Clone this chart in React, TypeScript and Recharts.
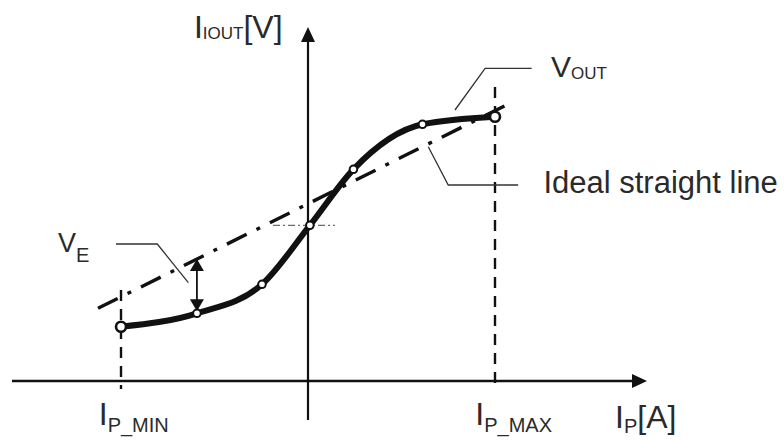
import React from "react";
import {
  ComposedChart,
  Line,
  XAxis,
  YAxis,
  ReferenceLine,
  ReferenceDot,
} from "recharts";

// measured sensor output points, IP_MIN = -1 .. IP_MAX = 1
const currentSteps = [-1, -0.594, -0.246, 0.01, 0.243, 0.612, 1];
const outputVolts = [0.543, 0.677, 0.967, 1.557, 2.117, 2.567, 2.643];

// ideal straight line (end points)
const idealCurrent = [-1.123, 1.086];
const idealVolts = [0.727, 2.783];

// limits on the current axis
const currentLimits = [-1, 1];

const curveData = currentSteps.map((x, i) => ({ x, y: outputVolts[i] }));
const idealData = idealCurrent.map((x, i) => ({ x, y: idealVolts[i] }));

const INK = "#111";
const TEXT = "#2a2a2a";
const FONT = "'Liberation Sans', Arial, sans-serif";

const head = (x: number, y: number, ang: number, len: number, half: number) => {
  const bx = x - Math.cos(ang) * len;
  const by = y - Math.sin(ang) * len;
  const px = -Math.sin(ang) * half;
  const py = Math.cos(ang) * half;
  return `${x},${y} ${bx + px},${by + py} ${bx - px},${by - py}`;
};

const AxisArrow = (props: any) => {
  const { x1, y1, x2, y2, strokeWidth } = props;
  const ang = Math.atan2(y2 - y1, x2 - x1);
  return (
    <g>
      <line x1={x1} y1={y1} x2={x2 - Math.cos(ang) * 8} y2={y2 - Math.sin(ang) * 8} stroke={INK} strokeWidth={strokeWidth} />
      <polygon points={head(x2, y2, ang, 15, 7)} fill={INK} />
    </g>
  );
};

const DoubleArrow = (props: any) => {
  const { x1, y1, x2, y2 } = props;
  const ang = Math.atan2(y2 - y1, x2 - x1);
  return (
    <g>
      <line x1={x1} y1={y1} x2={x2} y2={y2} stroke={INK} strokeWidth={1.8} />
      <polygon points={head(x2, y2, ang, 12, 7)} fill={INK} />
      <polygon points={head(x1, y1, ang + Math.PI, 12, 7)} fill={INK} />
    </g>
  );
};

const CurveDot = (props: any) => {
  const { cx, cy, index } = props;
  const end = index === 0 || index === currentSteps.length - 1;
  return (
    <circle
      key={`d-${index}`}
      cx={cx}
      cy={cy}
      r={end ? 5 : 3.8}
      fill="#fff"
      stroke={INK}
      strokeWidth={end ? 2.6 : 2}
    />
  );
};

type Lbl = { main: string; sub: string; tail: string; x: number; y: number };

// annotation texts, anchored at baseline start (axis units)
const labels: Lbl[] = [
  { main: "I", sub: "IOUT", tail: "[V]", x: -0.61, y: 3.43 },
  { main: "I", sub: "P_MIN", tail: "", x: -1.119, y: -0.44 },
  { main: "I", sub: "P_MAX", tail: "", x: 0.895, y: -0.44 },
  { main: "I", sub: "P", tail: "[A]", x: 1.642, y: -0.47 },
  { main: "V", sub: "OUT", tail: "", x: 1.299, y: 3.04 },
  { main: "V", sub: "E", tail: "", x: -1.337, y: 1.29 },
  { main: "Ideal straight line", sub: "", tail: "", x: 1.259, y: 1.88 },
];

const labelStyle: Record<string, { size: number; sub: number; dy: number }> = {
  IOUT: { size: 32, sub: 17, dy: 1 },
  P_MIN: { size: 32, sub: 20, dy: 7 },
  P_MAX: { size: 32, sub: 20, dy: 7 },
  P: { size: 32, sub: 20, dy: 5 },
  OUT: { size: 30, sub: 17, dy: 1.5 },
  E: { size: 27, sub: 20, dy: 10 },
  "": { size: 31, sub: 0, dy: 0 },
};

const makeLabel = (l: Lbl) => (props: any) => {
  const { cx, cy } = props;
  const st = labelStyle[l.sub];
  return (
    <text x={cx} y={cy} fill={TEXT} fontFamily={FONT} fontSize={st.size}>
      {l.main}
      {l.sub && (
        <tspan fontSize={st.sub} dy={st.dy}>
          {l.sub}
        </tspan>
      )}
      {l.tail && (
        <tspan fontSize={st.size} dy={-st.dy}>
          {l.tail}
        </tspan>
      )}
    </text>
  );
};

// leader lines for the annotations
const veLeader = [
  { x: -1.027, y: 1.37 },
  { x: -0.806, y: 1.37 },
  { x: -0.64, y: 0.983 },
];
const voutLeader = [
  { x: 0.786, y: 2.71 },
  { x: 0.947, y: 3.127 },
  { x: 1.196, y: 3.127 },
];
const idealLeader = [
  { x: 0.643, y: 2.343 },
  { x: 0.75, y: 1.96 },
  { x: 1.124, y: 1.96 },
];

const App = () => {
  return (
    <div style={{ position: "absolute", left: 0, top: 0, background: "#fff" }}>
      <ComposedChart width={784} height={440} margin={{ top: 0, right: 0, bottom: 0, left: 0 }}>
        <XAxis type="number" dataKey="x" domain={[-1.6471, 2.5455]} hide allowDataOverflow />
        <YAxis type="number" dataKey="y" domain={[-0.59, 3.81]} hide allowDataOverflow />

        {/* axes with arrows */}
        <ReferenceLine
          segment={[{ x: -1.583, y: 0 }, { x: 1.813, y: 0 }]}
          shape={(p: any) => <AxisArrow {...p} strokeWidth={2.6} />}
        />
        <ReferenceLine
          segment={[{ x: 0, y: -0.39 }, { x: 0, y: 3.54 }]}
          shape={(p: any) => <AxisArrow {...p} strokeWidth={2.2} />}
        />

        {/* IP_MIN / IP_MAX dashed markers */}
        <ReferenceLine
          segment={[{ x: currentLimits[0], y: 0.91 }, { x: currentLimits[0], y: -0.08 }]}
          stroke={INK}
          strokeWidth={2.4}
          strokeDasharray="11 8"
        />
        <ReferenceLine
          segment={[{ x: currentLimits[1], y: 2.94 }, { x: currentLimits[1], y: -0.08 }]}
          stroke={INK}
          strokeWidth={2.4}
          strokeDasharray="11 8"
        />

        {/* ideal straight line */}
        <Line
          data={idealData}
          dataKey="y"
          type="linear"
          stroke={INK}
          strokeWidth={3.4}
          strokeDasharray="22 11 4 11"
          dot={false}
          activeDot={false}
          isAnimationActive={false}
        />
        <ReferenceLine
          segment={[{ x: -0.187, y: outputVolts[3] }, { x: 0.144, y: outputVolts[3] }]}
          stroke="#444"
          strokeWidth={1}
          strokeDasharray="7 3 2 3"
        />

        {/* leaders */}
        {[veLeader, voutLeader, idealLeader].map((pts, i) => (
          <Line
            key={`lead-${i}`}
            data={pts}
            dataKey="y"
            type="linear"
            stroke="#333"
            strokeWidth={1.3}
            dot={false}
            activeDot={false}
            isAnimationActive={false}
          />
        ))}

        {/* VE error arrow */}
        <ReferenceLine
          segment={[{ x: currentSteps[1], y: 1.219 }, { x: currentSteps[1], y: outputVolts[1] + 0.02 }]}
          shape={(p: any) => <DoubleArrow {...p} />}
        />

        {/* VOUT curve */}
        <Line
          data={curveData}
          dataKey="y"
          type="monotone"
          stroke={INK}
          strokeWidth={6}
          dot={CurveDot}
          activeDot={false}
          isAnimationActive={false}
        />

        {labels.map((l, i) => (
          <ReferenceDot key={`lbl-${i}`} x={l.x} y={l.y} r={1} shape={makeLabel(l)} />
        ))}
      </ComposedChart>
    </div>
  );
};

export default App;
